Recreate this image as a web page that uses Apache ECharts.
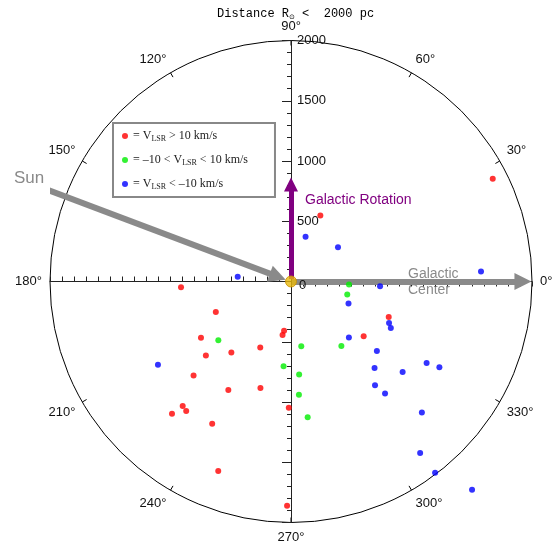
<!DOCTYPE html>
<html>
<head>
<meta charset="utf-8">
<script src="https://cdn.jsdelivr.net/npm/echarts@6/dist/echarts.min.js"></script>
<style>
html, body { margin: 0; padding: 0; background: #fff; }
#chart { width: 560px; height: 547px; }
</style>
</head>
<body>
<div id="chart"></div>
<script>
// each point: [distance (pc), galactic longitude (deg)]
const redPoints = [
  [914, 183], [673, 202], [881, 212], [770, 230], [936, 221], [604, 245],
  [412, 262], [449, 261], [1124, 224], [1040, 240], [920, 254], [1370, 229],
  [1382, 231], [1476, 228], [1048, 269], [1349, 241], [1685, 249], [1861, 269],
  [863, 340], [755, 323], [1879, 27], [599, 66]
];
const greenPoints = [
  [776, 219], [706, 265], [482, 357], [479, 347], [545, 279], [679, 308],
  [774, 275], [942, 274], [1135, 277]
];
const bluePoints = [
  [1302, 212], [740, 357], [511, 339], [884, 337], [914, 335], [668, 316],
  [917, 321], [1313, 329], [1422, 330], [998, 314], [1192, 321], [1108, 309],
  [1214, 310], [1536, 315], [1781, 307], [1987, 307], [2290, 311], [391, 72],
  [482, 36], [1579, 3], [444, 175]
];
const sunPoint = [[0, 0]];

const angleTicks = [0, 30, 60, 90, 120, 150, 180, 210, 240, 270, 300, 330];
const distanceLabels = [0, 500, 1000, 1500, 2000];

const legendNames = ['vpos', 'vmid', 'vneg'];
const legendTexts = {
  vpos: '= V{sub|LSR} > 10 km/s',
  vmid: '= –10 < V{sub|LSR} < 10 km/s',
  vneg: '= V{sub|LSR} < –10 km/s'
};

const cx = 291, cy = 281.5, R = 241;

const chart = echarts.init(document.getElementById('chart'));

const dotSeries = (name, data, color) => ({
  name: name,
  type: 'scatter',
  coordinateSystem: 'polar',
  data: data,
  symbol: 'circle',
  symbolSize: 6,
  clip: false,
  itemStyle: { color: color },
  z: 7
});

const arrowSeries = (data, z) => ({
  type: 'lines',
  coordinateSystem: 'cartesian2d',
  xAxisIndex: 0,
  yAxisIndex: 0,
  silent: true,
  symbol: ['none', 'triangle'],
  symbolSize: 17,
  z: z,
  data: data
});

const tickStyle = { color: '#222', width: 1 };
const hiddenAxis = (gridIndex, min, max) => ({ type: 'value', gridIndex: gridIndex, min: min, max: max, show: false });

chart.setOption({
  animation: false,
  title: {
    text: 'Distance R{sun|⊙} <  2000 pc',
    left: 212,
    top: 2,
    textStyle: {
      fontFamily: 'Liberation Mono',
      fontSize: 12,
      fontWeight: 'normal',
      color: '#000',
      rich: {
        sun: { fontFamily: 'DejaVu Sans', fontSize: 7, verticalAlign: 'bottom', padding: [7, 0, 0, 0] }
      }
    }
  },
  legend: {
    data: legendNames,
    orient: 'vertical',
    left: 113,
    top: 123,
    padding: [6, 27, 6, 9],
    itemGap: 10,
    itemWidth: 6,
    itemHeight: 6,
    icon: 'circle',
    backgroundColor: '#fff',
    borderColor: '#888',
    borderWidth: 2,
    borderRadius: 0,
    selectedMode: false,
    formatter: name => legendTexts[name],
    textStyle: {
      fontFamily: 'Liberation Serif',
      fontSize: 12,
      color: '#222',
      lineHeight: 14,
      rich: {
        sub: { fontFamily: 'Liberation Serif', fontSize: 8, verticalAlign: 'bottom', lineHeight: 14, padding: [4, 0, 0, 0] }
      }
    }
  },
  polar: { center: [cx, cy], radius: R },
  angleAxis: {
    type: 'value',
    min: 0,
    max: 360,
    interval: 30,
    startAngle: 0,
    clockwise: false,
    axisLine: { lineStyle: { color: '#000', width: 1 } },
    axisTick: { show: true, inside: true, length: 5, lineStyle: { color: '#000' } },
    splitLine: { show: false },
    axisLabel: {
      margin: 8,
      fontFamily: 'Liberation Sans',
      fontSize: 13,
      color: '#111',
      formatter: v => (angleTicks.indexOf(v) >= 0 ? v + '°' : '')
    }
  },
  radiusAxis: { type: 'value', min: 0, max: 2000, show: false },
  grid: [
    // 0: full square, used for the annotation arrows
    { left: cx - R, top: cy - R, width: 2 * R, height: 2 * R },
    // 1: left half of the horizontal axis
    { left: cx - R, top: cy - R, width: R, height: R },
    // 2: right half of the horizontal axis
    { left: cx, top: cy - R, width: R, height: R },
    // 3: vertical axis
    { left: cx, top: cy - R, width: R, height: 2 * R }
  ],
  xAxis: [
    hiddenAxis(0, -2000, 2000),
    {
      type: 'value', gridIndex: 1, position: 'bottom',
      min: -2000, max: 0, interval: 500,
      axisLine: { onZero: false, lineStyle: tickStyle },
      axisTick: { show: true, inside: true, length: 5, lineStyle: tickStyle },
      minorTick: { show: true, splitNumber: 5, length: 5, lineStyle: tickStyle },
      axisLabel: { show: false },
      splitLine: { show: false }
    },
    {
      type: 'value', gridIndex: 2, position: 'bottom',
      min: 0, max: 2000, interval: 500,
      axisLine: { onZero: false, lineStyle: tickStyle },
      axisTick: { show: true, inside: false, length: 5, lineStyle: tickStyle },
      minorTick: { show: true, splitNumber: 5, length: 5, lineStyle: tickStyle },
      axisLabel: { show: false },
      splitLine: { show: false }
    },
    hiddenAxis(3, 0, 2000)
  ],
  yAxis: [
    hiddenAxis(0, -2000, 2000),
    hiddenAxis(1, 0, 2000),
    hiddenAxis(2, 0, 2000),
    {
      type: 'value', gridIndex: 3, position: 'left', z: 4,
      min: -2000, max: 2000, interval: 500,
      axisLine: { onZero: false, lineStyle: tickStyle },
      axisTick: { show: true, inside: false, length: 9, lineStyle: tickStyle },
      minorTick: { show: true, splitNumber: 5, length: 4, lineStyle: tickStyle },
      axisLabel: {
        inside: true,
        margin: 6,
        fontFamily: 'Liberation Sans',
        fontSize: 13,
        color: '#111',
        formatter: v => (v === 0 ? '{zero|0}' : distanceLabels.indexOf(v) >= 0 ? String(v) : ''),
        rich: { zero: { fontFamily: 'Liberation Sans', fontSize: 13, color: '#111', padding: [7, 0, 0, 2] } }
      },
      splitLine: { show: false }
    }
  ],
  series: [
    dotSeries('vpos', redPoints, '#ff0000'),
    dotSeries('vmid', greenPoints, '#00ee00'),
    dotSeries('vneg', bluePoints, '#0000ff'),
    arrowSeries([
      { coords: [[-2017, 759], [-110, 40]], lineStyle: { color: '#8a8a8a', width: 6, opacity: 1 } },
      { coords: [[0, 0], [1925, 0]], lineStyle: { color: '#8a8a8a', width: 6, opacity: 1 } }
    ], 3),
    arrowSeries([
      { coords: [[0, 20], [0, 805]], symbolSize: 14, lineStyle: { color: '#800080', width: 5, opacity: 1 } }
    ], 6),
    {
      name: 'sun',
      type: 'scatter',
      coordinateSystem: 'polar',
      data: sunPoint,
      symbolSize: 11,
      itemStyle: { color: '#e8b90c', borderColor: '#c89000', borderWidth: 1 },
      z: 10
    }
  ],
  graphic: [
    { type: 'text', left: 14, top: 170, style: { text: 'Sun', fill: '#8a8a8a', font: '17px "Liberation Sans"' } },
    { type: 'text', left: 305, top: 193, style: { text: 'Galactic Rotation', fill: '#800080', font: '14px "Liberation Sans"' } },
    { type: 'text', left: 408, top: 266, style: { text: 'Galactic\nCenter', fill: '#8a8a8a', font: '14px "Liberation Sans"', lineHeight: 16 } }
  ]
});
</script>
</body>
</html>
